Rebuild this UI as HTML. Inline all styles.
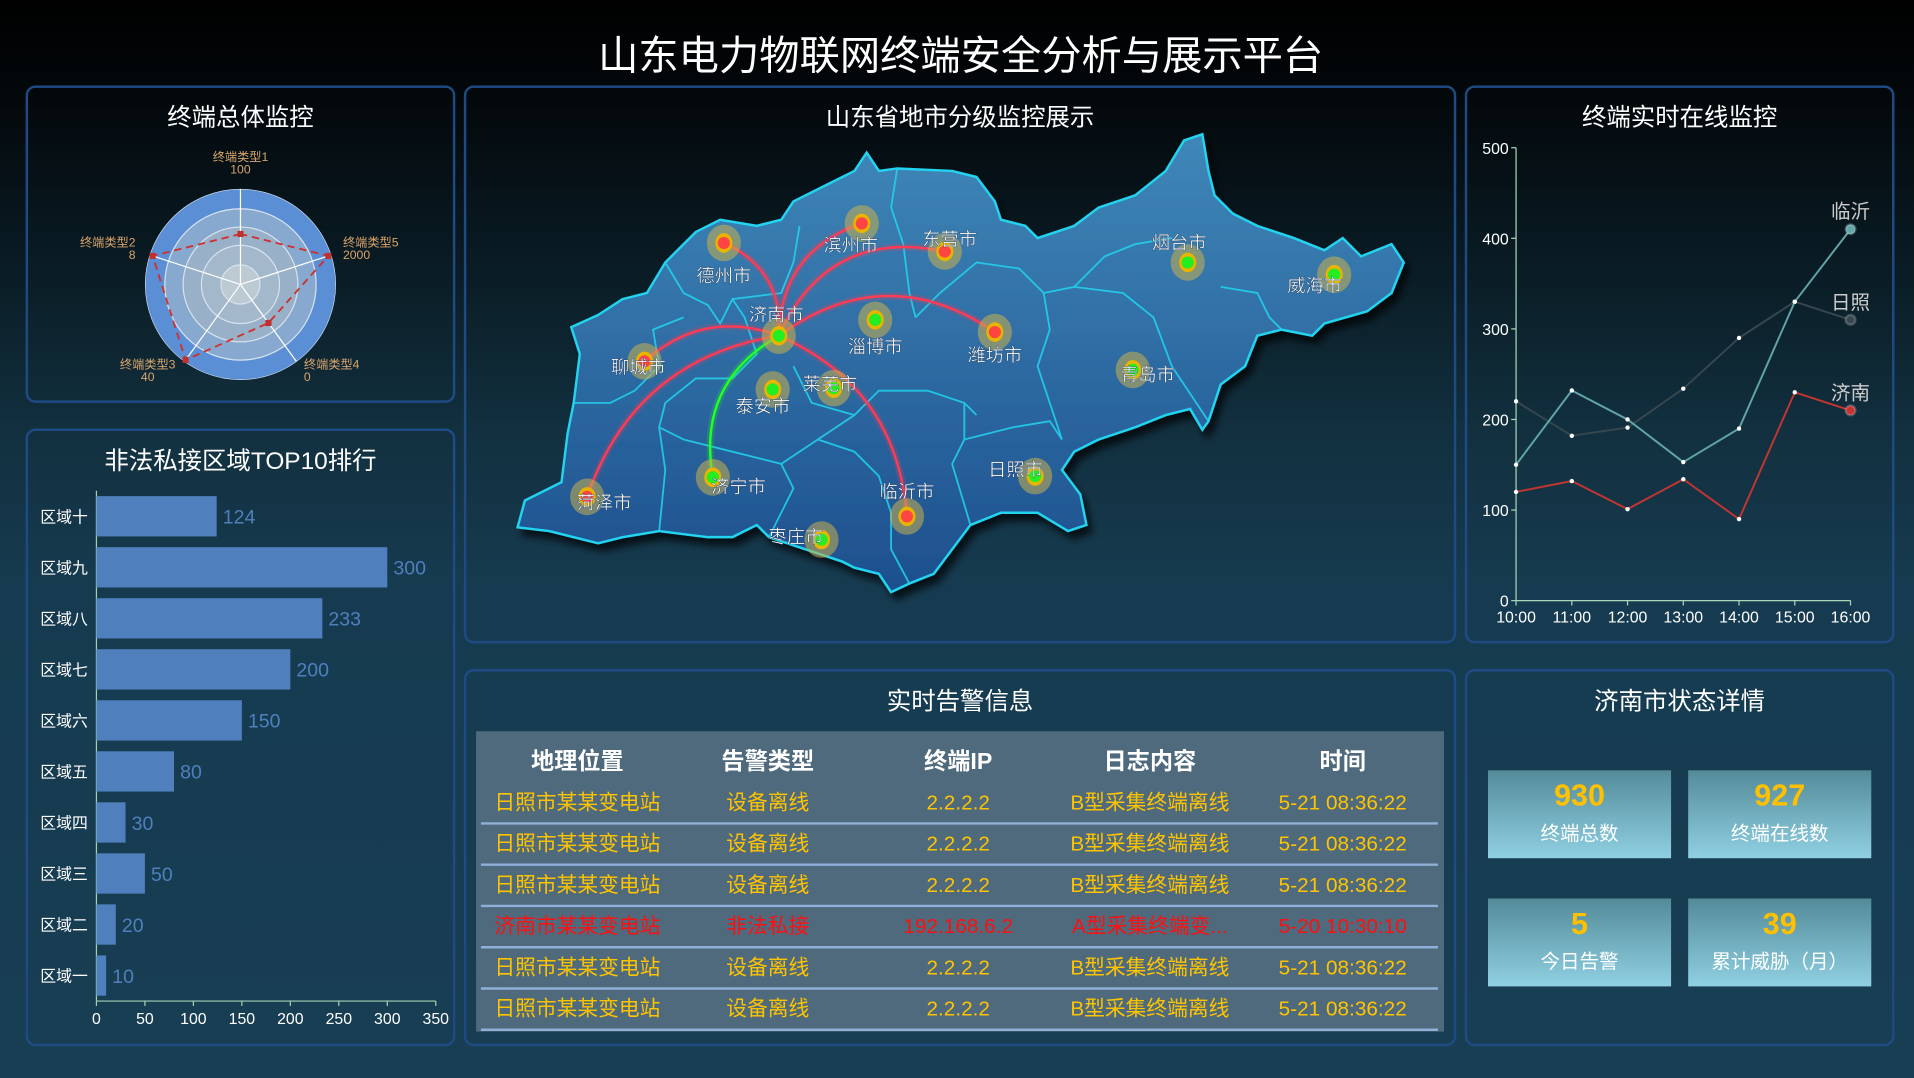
<!DOCTYPE html>
<html><head><meta charset="utf-8">
<style>
html,body{margin:0;padding:0;width:1914px;height:1078px;overflow:hidden;background:#173d52;}
#stage{position:absolute;left:0;top:0;width:1568px;height:883px;transform:scale(1.22066,1.2208);transform-origin:0 0;
 background:linear-gradient(180deg,#000 0%,#03080b 9%,#0a1c25 25%,#12303f 40%,#163b50 55%,#183e54 100%);
 font-family:"Liberation Sans","Noto Sans CJK SC",sans-serif;color:#fff;}
.panel{position:absolute;border:2px solid #1f4b85;border-radius:8px;box-sizing:border-box;}
.ptitle{position:absolute;left:0;right:0;text-align:center;font-size:20px;color:#fff;}
#title{position:absolute;left:0;width:1574px;top:19px;text-align:center;font-size:33px;color:#fff;}
svg{position:absolute;left:0;top:0;overflow:visible;}
.card{position:absolute;width:150px;height:72px;background:linear-gradient(180deg,#538b99,#8fd0e2);text-align:center;}
.card .num{font-size:25px;font-weight:bold;color:#ffc000;margin-top:6px;line-height:30px;}
.card .lab{font-size:16px;color:#fff;margin-top:2px;}
</style></head><body>
<div id="stage">
<div id="title">山东电力物联网终端安全分析与展示平台</div>

<div class="panel" style="left:21px;top:70px;width:352px;height:260px">
 <div class="ptitle" style="top:8px">终端总体监控</div></div>
<div class="panel" style="left:21px;top:351px;width:352px;height:506px">
 <div class="ptitle" style="top:8px">非法私接区域TOP10排行</div></div>
<div class="panel" style="left:380px;top:70px;width:813px;height:457px">
 <div class="ptitle" style="top:8px">山东省地市分级监控展示</div></div>
<div class="panel" style="left:1200px;top:70px;width:352px;height:457px">
 <div class="ptitle" style="top:8px">终端实时在线监控</div></div>
<div class="panel" style="left:380px;top:548px;width:813px;height:309px">
 <div class="ptitle" style="top:8px">实时告警信息</div></div>
<div class="panel" style="left:1200px;top:548px;width:352px;height:309px">
 <div class="ptitle" style="top:8px">济南市状态详情</div></div>

<div style="position:absolute;left:390px;top:599px;width:793px;height:246px;background:#4e6a7c"></div>
<svg id="tbl" width="1568" height="883"></svg>

<div class="card" style="left:1219px;top:631px"><div class="num">930</div><div class="lab">终端总数</div></div>
<div class="card" style="left:1383px;top:631px"><div class="num">927</div><div class="lab">终端在线数</div></div>
<div class="card" style="left:1219px;top:736px"><div class="num">5</div><div class="lab">今日告警</div></div>
<div class="card" style="left:1383px;top:736px"><div class="num">39</div><div class="lab">累计威胁（月）</div></div>

<svg id="radar" width="1568" height="883"></svg>
<svg id="bars" width="1568" height="883"></svg>
<svg id="map" width="1568" height="883">
 <defs>
  <linearGradient id="mg" x1="0" y1="0" x2="0" y2="1"><stop offset="0" stop-color="#3f87b8"/><stop offset="1" stop-color="#1d4f8d"/></linearGradient>
  <filter id="sh"><feDropShadow dx="4" dy="6" stdDeviation="3" flood-color="#000" flood-opacity="0.7"/></filter>
 </defs>
 <polygon fill="url(#mg)" stroke="#22d4f0" stroke-width="2" filter="url(#sh)"
 points="424,432 430,410 460,395 465,355 470,330 475,290 468,268 490,258 510,245 530,240 545,215 555,205 570,190 590,180 620,185 640,180 650,165 680,150 700,140 710,125 720,140 735,138 780,140 800,145 815,165 820,180 840,185 850,195 880,185 900,170 930,160 955,140 970,115 985,110 990,140 995,160 1010,175 1030,185 1060,195 1085,205 1100,195 1115,210 1140,200 1150,215 1140,240 1120,255 1085,265 1075,275 1050,270 1030,275 1020,300 1000,315 990,345 985,352 975,335 955,340 930,350 900,360 880,370 870,385 885,405 890,430 875,435 850,420 820,420 795,430 780,450 765,470 745,478 730,485 720,470 700,465 690,460 675,455 660,450 630,440 620,430 600,440 580,440 540,435 510,440 490,445 470,440 450,435"/>
 <g fill="none" stroke="#22d4f0" stroke-width="1.5" opacity="0.85">
  <polyline points="545,215 560,240 580,250 590,265 600,245 640,240 650,215 655,185"/>
  <polyline points="735,138 730,170 740,200 745,240 750,260"/>
  <polyline points="470,330 500,330 520,320 540,300 535,270 560,260"/>
  <polyline points="600,245 610,260 620,290 600,310 570,310 545,330 540,350 560,360"/>
  <polyline points="650,300 665,330 700,340 720,320 760,320 790,330 800,340"/>
  <polyline points="750,260 770,240 800,215 835,220 855,240 860,270 850,300 860,330 870,360"/>
  <polyline points="855,240 880,235 905,210 930,200 960,195"/>
  <polyline points="880,235 920,240 945,260 960,300 990,345"/>
  <polyline points="1000,235 1030,240 1040,260 1050,270"/>
  <polyline points="540,350 545,385 540,435"/>
  <polyline points="560,360 600,370 640,380 670,360 700,340"/>
  <polyline points="640,380 650,400 640,420 630,440"/>
  <polyline points="670,360 700,370 720,390 730,420 730,450 745,478"/>
  <polyline points="790,330 790,360 780,380 795,430"/>
  <polyline points="790,360 830,350 860,345 870,360"/>
 </g>
 <g id="mapmarks"></g>
</svg>
<svg id="line" width="1568" height="883"></svg>
</div>
<script>
const NS='http://www.w3.org/2000/svg';
function mk(parent,tag,attrs,text){const e=document.createElementNS(NS,tag);for(const k in attrs)e.setAttribute(k,attrs[k]);if(text!==undefined)e.textContent=text;parent.appendChild(e);return e;}

/* ---------- radar ---------- */
const radarNames=['终端类型1','终端类型2','终端类型3','终端类型4','终端类型5'];
const radarMax=['100','8','40','0','2000'];
const radarValues=[0.53,0.97,0.98,0.5,0.97];
(function(){
 const s=document.getElementById('radar');const cx=197,cy=233,R=78;
 const rings=[[78,'#5a8fd6'],[62,'#88a9cf'],[47,'#98b0c8'],[32,'#a3b8ca'],[16,'#bccad4']];
 rings.forEach((r,i)=>{const c=mk(s,'circle',{cx:cx,cy:cy,r:r[0],fill:r[1],stroke:'#d7e3ee','stroke-width':i?1:0.5});
  
  });
 const ang=i=>(-90-i*72)*Math.PI/180;
 const pts=[];
 radarNames.forEach((n,i)=>{const a=ang(i);
  const l=mk(s,'line',{x1:cx,y1:cy,x2:cx+R*Math.cos(a),y2:cy+R*Math.sin(a),stroke:'#fff','stroke-width':1});
  
  
  pts.push([cx+R*radarValues[i]*Math.cos(a),cy+R*radarValues[i]*Math.sin(a)]);
  let anc='middle',tx=cx,ty=cy;
  if(i===0){ty=cy-R-23;}
  if(i===1){anc='end';tx=cx-R-8;ty=cy-31;}
  if(i===4){anc='start';tx=cx+R+6;ty=cy-31;}
  if(i===2){tx=cx-76;ty=cy+69;}
  if(i===3){anc='start';tx=cx+52;ty=cy+69;}
  const t=mk(s,'text',{x:tx,y:ty,'text-anchor':anc,'font-size':10,fill:'#d9a56c'},n);
  
  
  const t2=mk(s,'text',{x:tx,y:ty+10,'text-anchor':anc,'font-size':10,fill:'#d9a56c'},radarMax[i]);
  
  
 });
 const p=mk(s,'polygon',{points:pts.map(q=>q.join(',')).join(' '),fill:'none',stroke:'#d0302f','stroke-width':1.5,'stroke-dasharray':'6,4'});
 
 
 pts.forEach(q=>{const d=mk(s,'rect',{x:q[0]-2.5,y:q[1]-2.5,width:5,height:5,fill:'#c0302f'});
  
  });
})();

/* ---------- bars ---------- */
const barCats=['区域十','区域九','区域八','区域七','区域六','区域五','区域四','区域三','区域二','区域一'];
const barVals=[124,300,233,200,150,80,30,50,20,10];
const barTicks=[0,50,100,150,200,250,300,350];
(function(){
 const s=document.getElementById('bars');const x0=79,x1=357,yT=402,yB=820;
 const X=v=>x0+v*(x1-x0)/350;const band=(yB-yT)/barCats.length;
 mk(s,'line',{x1:x0,y1:yT,x2:x0,y2:yB,stroke:'#9fd3b0','stroke-width':1});
 const ax=mk(s,'line',{x1:x0,y1:yB,x2:x1,y2:yB,stroke:'#9fd3b0','stroke-width':1});
 
 
 barTicks.forEach(t=>{mk(s,'line',{x1:X(t),y1:yB,x2:X(t),y2:yB+4,stroke:'#9fd3b0'});
  const e=mk(s,'text',{x:X(t),y:yB+19,'text-anchor':'middle','font-size':13,fill:'#fff'},t);
  
  });
 barCats.forEach((c,i)=>{const cy=yT+band*(i+0.5);
  const r=mk(s,'rect',{x:x0,y:cy-16.5,width:X(barVals[i])-x0,height:33,fill:'#4f80bd'});
  
  
  const l=mk(s,'text',{x:72,y:cy+5,'text-anchor':'end','font-size':13,fill:'#fff'},c);
  
  
  const v=mk(s,'text',{x:X(barVals[i])+5,y:cy+6,'font-size':16,fill:'#4f80bd'},barVals[i]);
  
  });
})();

/* ---------- map ---------- */
const cityNames=['德州市','滨州市','东营市','烟台市','威海市','济南市','淄博市','潍坊市','聊城市','莱芜市','泰安市','青岛市','济宁市','菏泽市','临沂市','日照市','枣庄市'];
const cityAlarm=[1,1,1,0,0,0,0,1,1,0,0,0,0,1,1,0,0];
const cityXY=[[593,199],[706,183],[774,206],[973,215],[1093,225],[638,275],[717,262],[815,272],[528,296],[683,318],[633,319],[928,303],[584,391],[481,407],[743,423],[848,390],[673,442]];
const labelXY=[[593,231],[697,206],[778,201],[966,204],[1077,239],[636,263],[717,289],[815,296],[523,306],[680,320],[625,338],[940,312],[605,404],[495,417],[743,408],[832,390],[652,445]];
const flowTargets=['德州市','滨州市','东营市','潍坊市','聊城市','菏泽市','临沂市','济宁市'];
const flowBend=[0.35,-0.35,-0.4,-0.35,0.3,0.3,-0.3,0.35];
(function(){
 const g=document.getElementById('mapmarks');
 const J=cityXY[cityNames.indexOf('济南市')];
 flowTargets.forEach((n,k)=>{const T=cityXY[cityNames.indexOf(n)];
  const mx=(J[0]+T[0])/2,my=(J[1]+T[1])/2,dx=T[0]-J[0],dy=T[1]-J[1];
  const cx=mx-dy*flowBend[k],cy=my+dx*flowBend[k];
  const col=n==='济宁市'?'#22ff22':'#ff3a55';
  mk(g,'path',{d:`M${J[0]},${J[1]} Q${cx},${cy} ${T[0]},${T[1]}`,fill:'none',stroke:col,'stroke-width':6,opacity:0.2});
  const p=mk(g,'path',{d:`M${J[0]},${J[1]} Q${cx},${cy} ${T[0]},${T[1]}`,fill:'none',stroke:col,'stroke-width':2});
  
  });
 cityNames.forEach((n,i)=>{const [x,y]=cityXY[i];
  const h=mk(g,'ellipse',{cx:x,cy:y,rx:14,ry:15,fill:'#c9b14f',opacity:0.55});
  
  
  mk(g,'ellipse',{cx:x,cy:y,rx:7,ry:8,fill:'#e8b400'});
  const d=mk(g,'circle',{cx:x,cy:y,r:5,fill:cityAlarm[i]?'#ff4444':'#22ee22'});
  
  
  const t=mk(g,'text',{x:labelXY[i][0],y:labelXY[i][1],'text-anchor':'middle','font-size':15,fill:'#fff',stroke:'#1a3050','stroke-width':0.3},n);
  
  });
})();

/* ---------- line chart ---------- */
const hours=['10:00','11:00','12:00','13:00','14:00','15:00','16:00'];
const yTicks=[0,100,200,300,400,500];
const linyi=[150,232,200,153,190,330,410];
const rizhao=[220,182,191,234,290,330,310];
const jinan=[120,132,101,134,90,230,210];
(function(){
 const s=document.getElementById('line');const x0=1242,x1=1516,y0=492,y1=121;
 const X=i=>x0+i*(x1-x0)/(hours.length-1), Y=v=>y0-v*(y0-y1)/500;
 mk(s,'line',{x1:x0,y1:y1,x2:x0,y2:y0,stroke:'#a8d8b9'});
 mk(s,'line',{x1:x0,y1:y0,x2:x1,y2:y0,stroke:'#a8d8b9'});
 yTicks.forEach(t=>{mk(s,'line',{x1:x0-4,y1:Y(t),x2:x0,y2:Y(t),stroke:'#a8d8b9'});
  const e=mk(s,'text',{x:x0-6,y:Y(t)+5,'text-anchor':'end','font-size':13,fill:'#fff'},t);
  
  });
 hours.forEach((h,i)=>{mk(s,'line',{x1:X(i),y1:y0,x2:X(i),y2:y0+4,stroke:'#a8d8b9'});
  const e=mk(s,'text',{x:X(i),y:y0+18,'text-anchor':'middle','font-size':13,fill:'#fff'},h);
  
  });
 [[rizhao,'#37474f','日照'],[linyi,'#61a5a8','临沂'],[jinan,'#c23531','济南']].forEach(([d,c,n])=>{
  const p=mk(s,'polyline',{points:d.map((v,i)=>X(i)+','+Y(v)).join(' '),fill:'none',stroke:c,'stroke-width':1.6});
  
  
  d.forEach((v,i)=>{if(i<d.length-1){const q=mk(s,'circle',{cx:X(i),cy:Y(v),r:1.8,fill:'#fff'});
    
    }});
  const L=d.length-1;
  const e=mk(s,'circle',{cx:X(L),cy:Y(d[L]),r:4,fill:c,stroke:'#fff','stroke-opacity':0.2,'stroke-width':2});
  
  
  const t=mk(s,'text',{x:X(L),y:Y(d[L])-9,'text-anchor':'middle','font-size':16,fill:'#ccc'},n);
  
  });
})();

/* ---------- table ---------- */
const colHeads=['地理位置','告警类型','终端IP','日志内容','时间'];
const colX=[473,629,785,942,1100];
const rows=[['日照市某某变电站','设备离线','2.2.2.2','B型采集终端离线','5-21 08:36:22'],
['日照市某某变电站','设备离线','2.2.2.2','B型采集终端离线','5-21 08:36:22'],
['日照市某某变电站','设备离线','2.2.2.2','B型采集终端离线','5-21 08:36:22'],
['济南市某某变电站','非法私接','192.168.6.2','A型采集终端变...','5-20 10:30:10'],
['日照市某某变电站','设备离线','2.2.2.2','B型采集终端离线','5-21 08:36:22'],
['日照市某某变电站','设备离线','2.2.2.2','B型采集终端离线','5-21 08:36:22']];
(function(){
 const s=document.getElementById('tbl');
 colHeads.forEach((h,i)=>{const t=mk(s,'text',{x:colX[i],y:630,'text-anchor':'middle','font-size':19,'font-weight':'bold',fill:'#fff'},h);
  
  });
 rows.forEach((r,k)=>{const y=663+k*33.8;const red=r[1]==='非法私接';
  r.forEach((c,i)=>{const t=mk(s,'text',{x:colX[i],y:y,'text-anchor':'middle','font-size':17,fill:red?'#ff1010':'#ffc400'},c);
   
   });
  const l=mk(s,'line',{x1:394,x2:1178,y1:y+11.5,y2:y+11.5,stroke:'#90afd9','stroke-width':2});
  
  });
})();
</script>
</body></html>
